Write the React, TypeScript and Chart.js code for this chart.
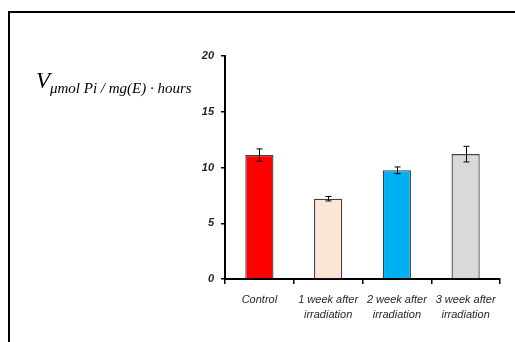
import React, { useEffect, useRef } from "react";
import { Chart, registerables } from "chart.js";

Chart.register(...registerables);

const categories: (string | string[])[] = [
  "Control",
  ["1 week after", "irradiation"],
  ["2 week after", "irradiation"],
  ["3 week after", "irradiation"],
];
const values = [11.12, 7.2, 9.75, 11.2];
const errors = [0.55, 0.2, 0.3, 0.7];
const barColors = ["#FF0000", "#FBE5D6", "#00B0F0", "#D9D9D9"];
const yTicks = [0, 5, 10, 15, 20];

const W = 515;
const H = 342;

const decorPlugin = {
  id: "decor",
  afterDatasetsDraw(chart: any) {
    const ctx = chart.ctx;
    const meta = chart.getDatasetMeta(0);
    const y = chart.scales.y;
    ctx.save();
    ctx.strokeStyle = "#000";
    ctx.lineWidth = 1;
    meta.data.forEach((bar: any, i: number) => {
      const x = Math.round(bar.x) + 0.5;
      const top = y.getPixelForValue(values[i] + errors[i]);
      const bot = y.getPixelForValue(values[i] - errors[i]);
      ctx.beginPath();
      ctx.moveTo(x, top);
      ctx.lineTo(x, bot);
      ctx.moveTo(x - 3, top);
      ctx.lineTo(x + 3, top);
      ctx.moveTo(x - 3, bot);
      ctx.lineTo(x + 3, bot);
      ctx.stroke();
    });
    ctx.restore();
  },
  afterDraw(chart: any) {
    const ctx = chart.ctx;
    ctx.save();
    // frame
    ctx.strokeStyle = "#000";
    ctx.lineWidth = 2;
    ctx.beginPath();
    ctx.moveTo(9, H);
    ctx.lineTo(9, 12);
    ctx.lineTo(W, 12);
    ctx.stroke();
    // axis title
    ctx.fillStyle = "#000";
    ctx.textBaseline = "alphabetic";
    ctx.textAlign = "left";
    ctx.font = "italic 23px 'Liberation Serif'";
    ctx.fillText("V", 36, 88);
    ctx.font = "italic 15px 'Liberation Serif'";
    ctx.fillText("\u03bcmol Pi / mg(E) \u00b7 hours", 50, 93);
    ctx.restore();
  },
};

export default function App() {
  const ref = useRef<HTMLCanvasElement>(null);
  useEffect(() => {
    const chart = new Chart(ref.current!, {
      type: "bar",
      data: {
        labels: categories,
        datasets: [
          {
            data: values,
            backgroundColor: barColors,
            borderColor: "#404040",
            borderWidth: 1.3,
            barPercentage: 0.41,
            categoryPercentage: 1,
          },
        ],
      },
      options: {
        animation: false,
        responsive: false,
        layout: { padding: { left: 0, top: 56, right: 15, bottom: 0 } },
        plugins: {
          legend: { display: false },
          tooltip: { enabled: false },
        },
        scales: {
          x: {
            grid: {
              display: true,
              drawOnChartArea: false,
              drawTicks: true,
              tickLength: 5,
              color: "#000",
              lineWidth: 1.5,
              offset: true,
            },
            border: { display: true, color: "#000", width: 2 },
            ticks: {
              color: "#262626",
              font: { family: "'Liberation Sans'", style: "italic", size: 11, lineHeight: 1.4 },
              padding: 8,
              maxRotation: 0,
              autoSkip: false,
            },
            afterFit: (s: any) => {
              s.height = H - 279;
            },
          },
          y: {
            min: 0,
            max: 20,
            afterBuildTicks: (s: any) => {
              s.ticks = yTicks.map((v) => ({ value: v }));
            },
            grid: {
              display: true,
              drawOnChartArea: false,
              drawTicks: true,
              tickLength: 4,
              color: "#000",
              lineWidth: 1.5,
            },
            border: { display: true, color: "#000", width: 2 },
            ticks: {
              color: "#262626",
              font: { family: "'Liberation Sans'", style: "italic", weight: "bold", size: 11 },
              padding: 7,
            },
            afterFit: (s: any) => {
              s.width = 225;
            },
          },
        },
      },
      plugins: [decorPlugin],
    });
    return () => chart.destroy();
  }, []);
  return (
    <div style={{ position: "fixed", left: 0, top: 0, width: W, height: H, background: "#fff" }}>
      <canvas ref={ref} width={W} height={H} style={{ width: W, height: H, display: "block" }} />
    </div>
  );
}
